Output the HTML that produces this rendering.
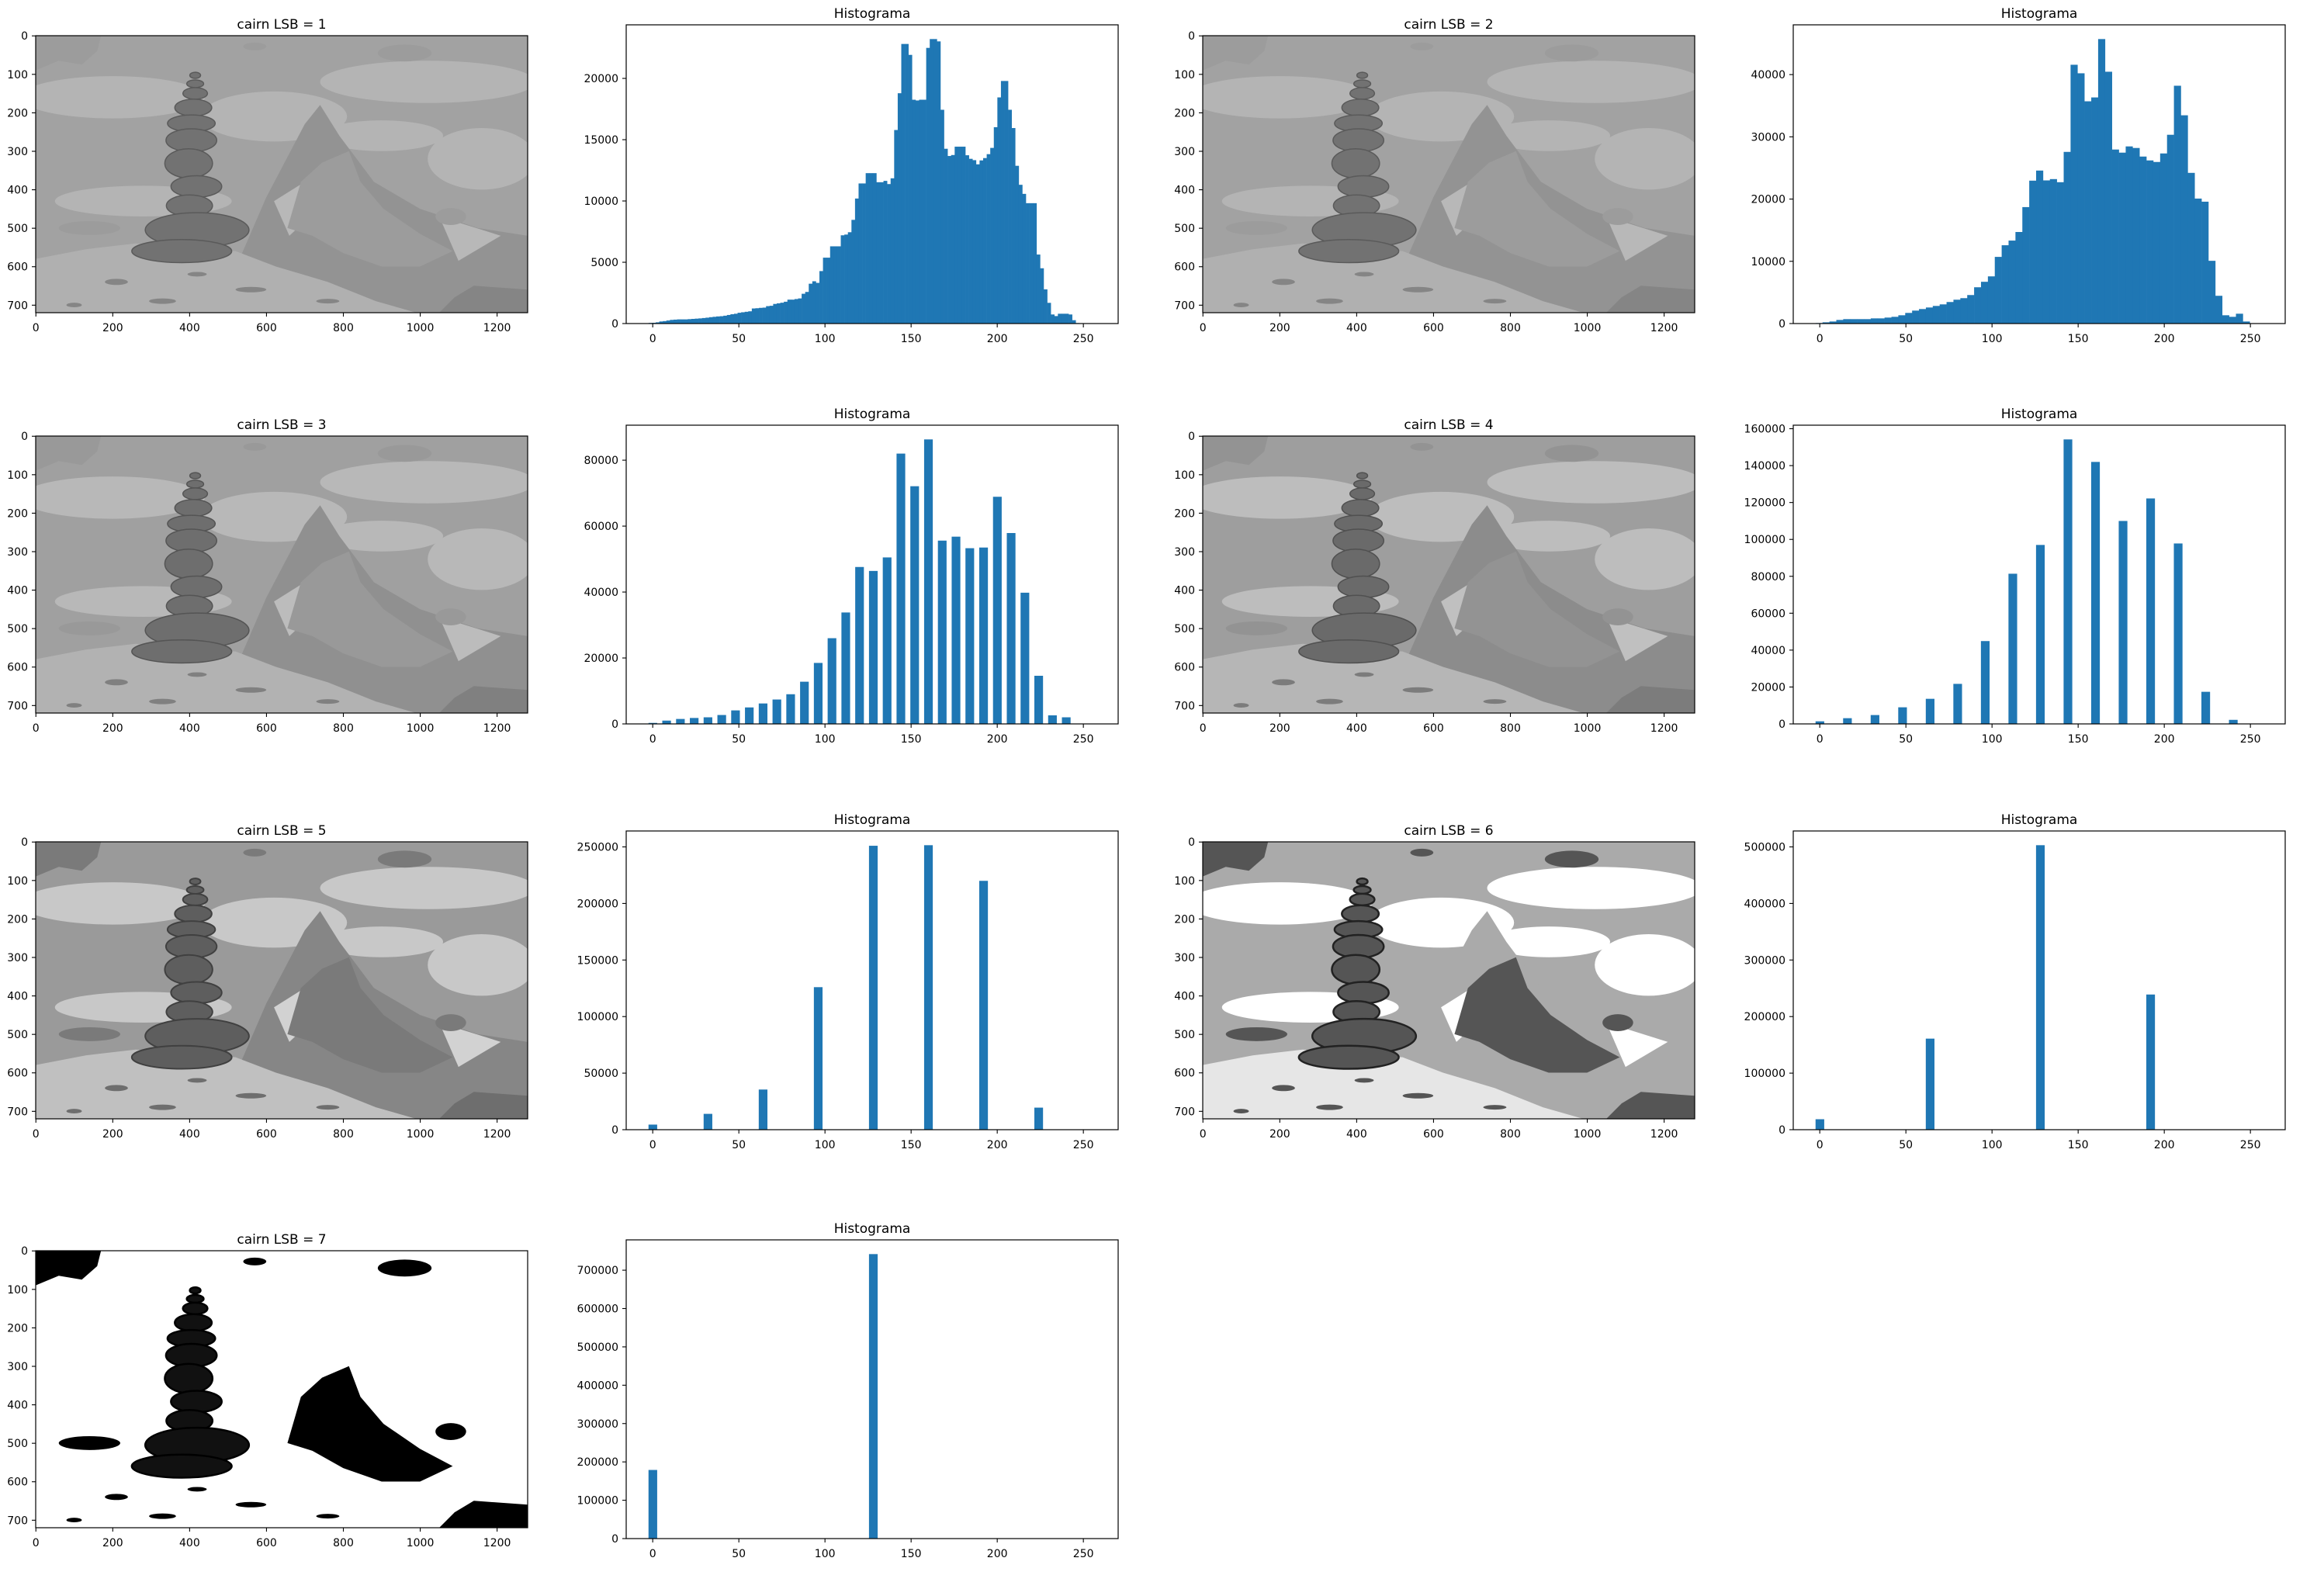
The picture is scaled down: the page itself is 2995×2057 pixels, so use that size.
<!DOCTYPE html>
<html><head><meta charset="utf-8"><style>
html,body{margin:0;padding:0;background:#fff;}
svg text{font-family:"DejaVu Sans","Liberation Sans",sans-serif;fill:#000;}
</style></head>
<body>
<svg id="fig" xmlns="http://www.w3.org/2000/svg" width="2995" height="2052" viewBox="0 0 2995 2052"></svg>
<script>
// ---- histogram data ----
const hist1Counts = [50,60,100,170,200,250,300,320,340,340,340,360,380,400,420,450,480,520,550,580,600,640,700,760,800,880,920,960,1000,1230,1250,1280,1300,1420,1450,1600,1650,1700,1780,1950,1950,2000,2050,2430,2580,3250,3450,3320,4280,5375,5375,6300,6300,6300,7200,7260,7450,8460,10200,11430,11430,12270,12270,12270,11530,11530,11640,11380,11850,15790,18790,22810,22810,21920,18260,18200,18260,18260,22490,23210,23210,23020,17440,14260,13670,13750,14430,14430,14430,13730,13440,13330,12990,13310,13500,13820,14330,16020,18450,19790,19790,17440,15950,12870,11320,10580,9820,9820,9820,5630,4510,2790,1690,740,610,800,800,800,740,275,40];
const hist1Range = [-2.4, 247.6];
const hist2Counts = [80,200,330,580,710,710,710,710,830,830,960,1080,1330,1710,2080,2330,2580,2830,3080,3460,3830,4080,4580,5830,6710,7580,10710,12580,13330,14710,18710,22960,24580,23000,23210,22710,27580,41580,40210,35710,36330,45710,40460,27960,27460,28460,28210,26830,26210,25960,27330,30330,38210,33460,24210,20080,19580,10080,4460,1330,1080,1580,330];
const hist2Range = [-2.4, 249.6];
const hist3Values = [0,8,16,24,32,40,48,56,64,72,80,88,96,104,112,120,128,136,144,152,160,168,176,184,192,200,208,216,224,232,240];
const hist3Counts = [300,1000,1500,1800,2000,2700,4100,5000,6200,7400,9000,12800,18500,26000,33800,47600,46400,50500,82000,72100,86300,55600,56800,53300,53500,68900,57900,39800,14600,2600,2000];
const hist4Values = [0,16,32,48,64,80,96,112,128,144,160,176,192,208,224,240];
const hist4Counts = [1400,3100,4800,9000,13600,21700,44900,81400,97000,154200,142000,110000,122200,97800,17400,2200];
const hist5Values = [0,32,64,96,128,160,192,224];
const hist5Counts = [4500,14000,35500,126000,251000,251500,220000,19500];
const hist6Values = [0,64,128,192];
const hist6Counts = [18500,161000,503000,239000];
const hist7Values = [0,128];
const hist7Counts = [179000,742000];
const histXTicks = [0,50,100,150,200,250];
const hist1YTicks = [0,5000,10000,15000,20000];
const hist2YTicks = [0,10000,20000,30000,40000];
const hist3YTicks = [0,20000,40000,60000,80000];
const hist4YTicks = [0,20000,40000,60000,80000,100000,120000,140000,160000];
const hist5YTicks = [0,50000,100000,150000,200000,250000];
const hist6YTicks = [0,100000,200000,300000,400000,500000];
const hist7YTicks = [0,100000,200000,300000,400000,500000,600000,700000];
const imgXTicks = [0,200,400,600,800,1000,1200];
const imgYTicks = [0,100,200,300,400,500,600,700];
const lsbLevels = [1,2,3,4,5,6,7];

const NS = "http://www.w3.org/2000/svg";
const fig = document.getElementById('fig');
const COLS = [46,807,1550,2311], ROWS = [32,548,1071,1598], W = 634, H = 385;
const BLUE = '#1f77b4';
function mk(parent, tag, attrs){ const e=document.createElementNS(NS,tag); for(const k in attrs) e.setAttribute(k,attrs[k]); parent.appendChild(e); return e; }

function axesFrame(g, x, y, w, h){
  const r = mk(g,'rect',{x:x,y:y,width:w,height:h,fill:'none',stroke:'#000','stroke-width':1.2});
  
  
}
function xTick(g, px, yb, label){
  const l = mk(g,'line',{x1:px,x2:px,y1:yb,y2:yb+5,stroke:'#000','stroke-width':1.1});
  
  
  const t = mk(g,'text',{x:px,y:yb+24,'font-size':14,'text-anchor':'middle'});
  t.textContent = label;
  
  
}
function yTick(g, xl, py, label){
  const l = mk(g,'line',{x1:xl-5,x2:xl,y1:py,y2:py,stroke:'#000','stroke-width':1.1});
  
  
  const t = mk(g,'text',{x:xl-10,y:py+5,'font-size':14,'text-anchor':'end'});
  t.textContent = label;
  
  
}
function title(g, cx, y, txt){
  const t = mk(g,'text',{x:cx,y:y,'font-size':17,'text-anchor':'middle'});
  t.textContent = txt;
  
  
}

function histPanel(name, col, row, bars, yticks){
  const x0 = COLS[col], y0 = ROWS[row];
  const g = mk(fig,'g',{});
  
  
  const xmin = -15.4, xmax = 270.2;
  const ymax = Math.max(...bars.map(b=>b[2]))*1.05;
  const sx = v => x0 + (v - xmin)/(xmax - xmin)*W;
  const sy = v => y0 + H - v/ymax*H;
  bars.forEach(b=>{
    const r = mk(g,'rect',{x:sx(b[0]),y:sy(b[2]),width:Math.max(0.5,sx(b[1])-sx(b[0])+0.3),height:sy(0)-sy(b[2]),fill:BLUE});
    
    
  });
  axesFrame(g,x0,y0,W,H);
  histXTicks.forEach(v=>xTick(g,sx(v),y0+H,String(v)));
  yticks.forEach(v=>yTick(g,x0,sy(v),String(v)));
  title(g,x0+W/2,y0-9,'Histograma');
}
function contiguous(counts, range){
  const w=(range[1]-range[0])/counts.length;
  return counts.map((c,i)=>[range[0]+i*w, range[0]+(i+1)*w, c]);
}
function centered(values, counts){
  return values.map((v,i)=>[v-2.45, v+2.45, counts[i]]);
}

const palettes = {
  1:{sky:'#a2a2a2',cloud:'#b4b4b4',mtn:'#939393',snow:'#b8b8b8',rock:'#b0b0b0',rockD:'#858585',cairn:'#727272',cairnS:'#5a5a5a',blob:'#9c9c9c',sw:3},
  2:{sky:'#a2a2a2',cloud:'#b4b4b4',mtn:'#939393',snow:'#b8b8b8',rock:'#b0b0b0',rockD:'#858585',cairn:'#727272',cairnS:'#5a5a5a',blob:'#9c9c9c',sw:3},
  3:{sky:'#a0a0a0',cloud:'#b8b8b8',mtn:'#909090',snow:'#bcbcbc',rock:'#b2b2b2',rockD:'#808080',cairn:'#6e6e6e',cairnS:'#545454',blob:'#999999',sw:3},
  4:{sky:'#9e9e9e',cloud:'#bdbdbd',mtn:'#8c8c8c',snow:'#c0c0c0',rock:'#b6b6b6',rockD:'#7c7c7c',cairn:'#6a6a6a',cairnS:'#505050',blob:'#939393',sw:3},
  5:{sky:'#9a9a9a',cloud:'#c8c8c8',mtn:'#868686',snow:'#d2d2d2',rock:'#c0c0c0',rockD:'#6e6e6e',cairn:'#5e5e5e',cairnS:'#404040',blob:'#7a7a7a',sw:4},
  6:{sky:'#aaaaaa',cloud:'#ffffff',mtn:'#aaaaaa',snow:'#ffffff',rock:'#e6e6e6',rockD:'#555555',cairn:'#555555',cairnS:'#222222',blob:'#555555',sw:5},
  7:{sky:'#ffffff',cloud:'#ffffff',mtn:'#ffffff',snow:'#ffffff',rock:'#ffffff',rockD:'#000000',cairn:'#111111',cairnS:'#000000',blob:'#000000',sw:5}
};
function sceneShape(g, tag, attrs){
  const e = mk(g, tag, attrs);
  
  
}
function imagePanel(name, col, row, lsb){
  const x0 = COLS[col], y0 = ROWS[row]+14, w = W, h = 357;
  const g = mk(fig,'g',{});
  
  
  const s = mk(g,'svg',{x:x0,y:y0,width:w,height:h,viewBox:'0 0 1280 720',preserveAspectRatio:'none'});
  
  
  const p = palettes[lsb];
  sceneShape(s,'rect',{x:0,y:0,width:1280,height:720,fill:p.sky});
  [[200,160,240,55],[620,210,190,65],[1020,120,280,55],[1160,320,140,80],[280,430,230,40],[900,260,160,40]].forEach(c=>
    sceneShape(s,'ellipse',{cx:c[0],cy:c[1],rx:c[2],ry:c[3],fill:p.cloud}));
  sceneShape(s,'polygon',{points:'470,720 600,420 700,230 740,180 790,260 880,380 1000,450 1150,500 1280,520 1280,720',fill:p.mtn});
  sceneShape(s,'polygon',{points:'620,430 700,380 725,460 660,520',fill:p.snow});
  sceneShape(s,'polygon',{points:'800,420 905,480 860,560',fill:p.snow});
  sceneShape(s,'polygon',{points:'1050,470 1210,520 1100,585',fill:p.snow});
  sceneShape(s,'polygon',{points:'0,0 170,0 160,40 120,75 60,65 0,90',fill:p.blob});
  sceneShape(s,'ellipse',{cx:960,cy:45,rx:70,ry:22,fill:p.blob});
  sceneShape(s,'ellipse',{cx:570,cy:28,rx:30,ry:10,fill:p.blob});
  sceneShape(s,'polygon',{points:'690,380 745,330 815,300 845,380 905,450 1000,515 1085,560 1000,600 900,600 800,565 720,520 655,500',fill:p.blob});
  sceneShape(s,'ellipse',{cx:140,cy:500,rx:80,ry:18,fill:p.blob});
  sceneShape(s,'ellipse',{cx:1080,cy:470,rx:40,ry:22,fill:p.blob});
  sceneShape(s,'polygon',{points:'0,580 130,555 260,540 390,552 520,560 625,600 760,640 885,690 990,720 0,720',fill:p.rock});
  sceneShape(s,'polygon',{points:'1050,720 1090,680 1140,650 1280,660 1280,720',fill:p.rockD});
  [[210,640,30,8],[420,620,25,6],[560,660,40,7],[760,690,30,6],[100,700,20,6],[330,690,35,7]].forEach(c=>
    sceneShape(s,'ellipse',{cx:c[0],cy:c[1],rx:c[2],ry:c[3],fill:p.rockD}));
  [[415,103,14,8],[415,125,22,10],[415,150,32,15],[410,187,48,22],[405,228,62,22],[405,272,66,30],[398,332,62,38],[418,392,66,28],[400,442,60,28],[420,505,135,45],[380,560,130,30]].forEach(c=>
    sceneShape(s,'ellipse',{cx:c[0],cy:c[1],rx:c[2],ry:c[3],fill:p.cairn,stroke:p.cairnS,'stroke-width':p.sw}));
  axesFrame(g,x0,y0,w,h);
  const sx = v => x0 + (v+0.5)/1280*w;
  const sy = v => y0 + (v+0.5)/720*h;
  imgXTicks.forEach(v=>xTick(g,sx(v),y0+h,String(v)));
  imgYTicks.forEach(v=>yTick(g,x0,sy(v),String(v)));
  title(g,x0+w/2,y0-9,'cairn LSB = '+lsb);
}

imagePanel('image-lsb-1',0,0,lsbLevels[0]);
histPanel('histogram-lsb-1',1,0,contiguous(hist1Counts,hist1Range),hist1YTicks);
imagePanel('image-lsb-2',2,0,lsbLevels[1]);
histPanel('histogram-lsb-2',3,0,contiguous(hist2Counts,hist2Range),hist2YTicks);
imagePanel('image-lsb-3',0,1,lsbLevels[2]);
histPanel('histogram-lsb-3',1,1,centered(hist3Values,hist3Counts),hist3YTicks);
imagePanel('image-lsb-4',2,1,lsbLevels[3]);
histPanel('histogram-lsb-4',3,1,centered(hist4Values,hist4Counts),hist4YTicks);
imagePanel('image-lsb-5',0,2,lsbLevels[4]);
histPanel('histogram-lsb-5',1,2,centered(hist5Values,hist5Counts),hist5YTicks);
imagePanel('image-lsb-6',2,2,lsbLevels[5]);
histPanel('histogram-lsb-6',3,2,centered(hist6Values,hist6Counts),hist6YTicks);
imagePanel('image-lsb-7',0,3,lsbLevels[6]);
histPanel('histogram-lsb-7',1,3,centered(hist7Values,hist7Counts),hist7YTicks);
</script>
</body></html>
